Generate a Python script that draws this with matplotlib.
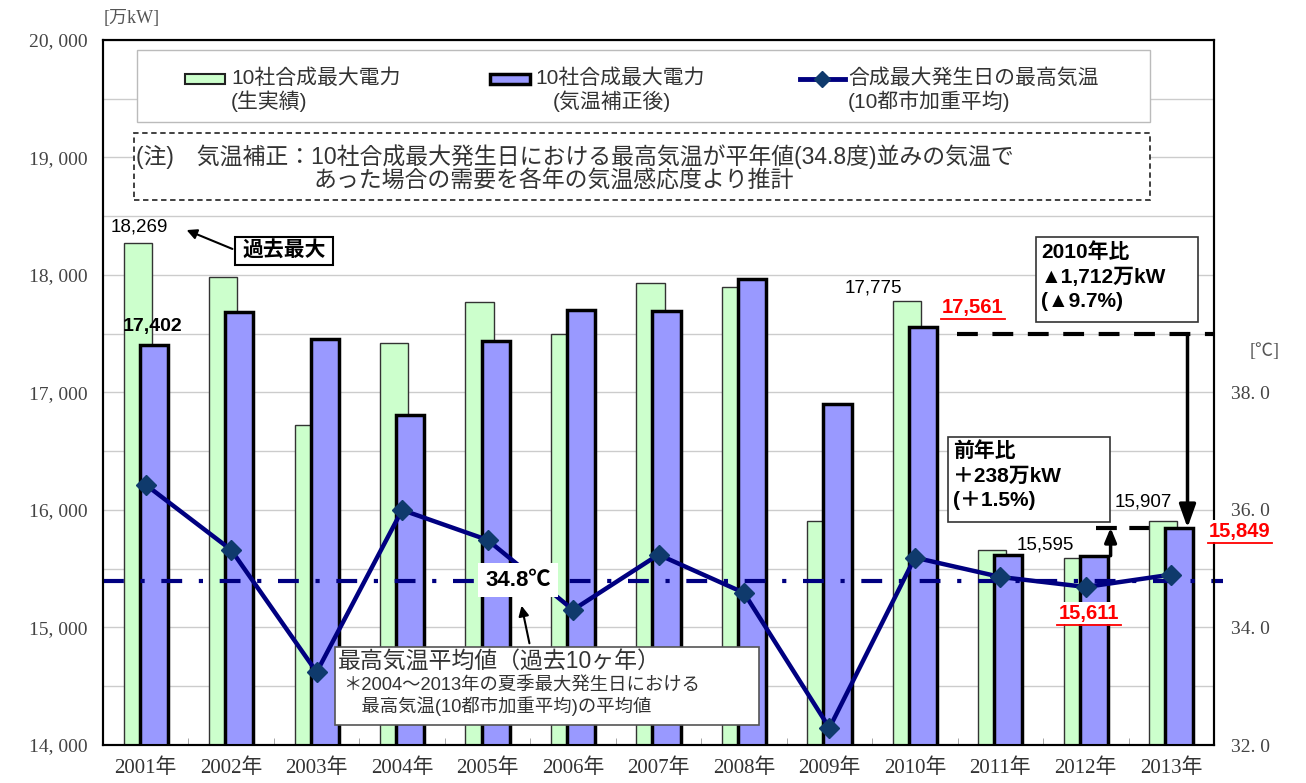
import numpy as np
import matplotlib
matplotlib.use('Agg')
import matplotlib.pyplot as plt
from matplotlib.patches import Rectangle, FancyArrowPatch
from matplotlib.lines import Line2D

# data
years = ['2001年', '2002年', '2003年', '2004年', '2005年', '2006年', '2007年',
         '2008年', '2009年', '2010年', '2011年', '2012年', '2013年']
actual = [18269, 17985, 16720, 17420, 17770, 17500, 17930, 17900, 15910, 17775, 15660, 15595, 15907]
corrected = [17402, 17685, 17455, 16810, 17440, 17700, 17695, 17965, 16900, 17561, 15620, 15611, 15849]
temp = [36.43, 35.32, 33.24, 36.00, 35.49, 34.30, 35.24, 34.59, 32.29, 35.19, 34.86, 34.69, 34.90]
temp_avg = 34.8

SANS = ['Liberation Sans', 'Noto Sans CJK JP']
SERIF = ['Liberation Serif', 'Noto Sans CJK JP']
plt.rcParams['font.family'] = SANS

W, H = 1306, 783
fig = plt.figure(figsize=(W / 100, H / 100), dpi=100)
L, R, T, B = 103, 1214, 40, 745
ax = fig.add_axes([L / W, 1 - B / H, (R - L) / W, (B - T) / H])


def fp(x, y):
    return x / W, 1 - y / H


def ft(x, y, s, **kw):
    return fig.text(x / W, 1 - y / H, s, **kw)


def fline(xs, ys, **kw):
    fig.add_artist(Line2D([v / W for v in xs], [1 - v / H for v in ys], **kw))


def fbox(x0, y0, x1, y1, **kw):
    fig.patches.append(Rectangle(fp(x0, y1), (x1 - x0) / W, (y1 - y0) / H,
                                 transform=fig.transFigure, **kw))


def farrow(p0, p1):
    fig.add_artist(FancyArrowPatch(fp(*p0), fp(*p1), transform=fig.transFigure,
                                   arrowstyle='-|>,head_length=6,head_width=3',
                                   color='black', lw=1.5, zorder=5))


x = np.arange(len(years))
off, bw = 0.094, 0.33
ax.bar(x - off, actual, bw, color='#ccffcc', edgecolor='#333333', linewidth=1, zorder=2)
ax.bar(x + off, corrected, bw, color='#9999ff', edgecolor='black', linewidth=2.5, zorder=3)

ax.set_xlim(-0.5, len(years) - 0.5)
ax.set_ylim(14000, 20000)
yt = list(range(14000, 20001, 1000))
ax.set_yticks(yt)
ax.set_yticklabels([f'{v:,}'.replace(',', ', ') for v in yt], family=SERIF, fontsize=14, color='#444444')
ax.set_yticks(range(14500, 20000, 1000), minor=True)
ax.grid(True, which='both', axis='y', color='#cccccc', lw=1)
ax.set_axisbelow(True)
ax.set_xticks(x)
ax.set_xticklabels(years, family=SERIF, fontsize=15, color='#333333')
ax.set_xticks(np.arange(-0.5, len(years)), minor=True)
ax.tick_params(axis='x', which='major', length=0, pad=10)
ax.tick_params(axis='x', which='minor', length=5, direction='in', color='#999999')
ax.tick_params(axis='y', which='both', length=0, pad=11)
for s in ax.spines.values():
    s.set_linewidth(1.5)

# 2010 -> 2013 and 2012 -> 2013 comparison marks
ax.plot([9.49, 12.5], [corrected[9] - 60] * 2, color='black', lw=3, ls=(0, (5, 3.5)), zorder=4)
ax.annotate('', xy=(12.19, corrected[12]), xytext=(12.19, corrected[9] - 60),
            arrowprops=dict(arrowstyle='-|>,head_length=0.7,head_width=0.25', color='black',
                            lw=2.5, mutation_scale=20, shrinkA=0, shrinkB=0), zorder=5)
ax.plot([11.12, 12.0], [corrected[12]] * 2, color='black', lw=3, ls=(0, (5, 3)), zorder=1.5)
ax.annotate('', xy=(11.29, corrected[12]), xytext=(11.29, corrected[11]),
            arrowprops=dict(arrowstyle='-|>,head_length=0.6,head_width=0.25', color='black',
                            lw=2.5, mutation_scale=14, shrinkA=0, shrinkB=0), zorder=5)

# temperature axis
ax2 = ax.twinx()
ax2.set_ylim(32, 44)
tt = [32, 34, 36, 38]
ax2.set_yticks(tt)
ax2.set_yticklabels([f'{v:.1f}'.replace('.', '. ') for v in tt], family=SERIF, fontsize=14, color='#444444')
ax2.tick_params(axis='y', length=0, pad=12)
for s in ax2.spines.values():
    s.set_linewidth(1.5)
ax2.axhline(temp_avg, xmax=1.008, clip_on=False, color='#000080', lw=3, ls=(0, (5, 4, 1, 4)), zorder=2)
ax2.plot(x, temp, color='#000080', lw=3.2, marker='D', ms=10, mfc='#0f3a6c', mec='#0f3a6c', zorder=3)

# axis units
ft(132, 18, '[万kW]', ha='center', va='center', fontsize=13, color='#555555', family=SERIF)
ft(1265, 352, '[℃]', ha='center', va='center', fontsize=13, color='#555555', family=SERIF)

# legend
fbox(137, 50, 1150, 122, fc='white', ec='#bbbbbb', lw=1, zorder=3)
fbox(185, 74, 225, 84, fc='#ccffcc', ec='#222222', lw=1.5, zorder=4)
fbox(490, 74, 530, 84, fc='#9999ff', ec='black', lw=2.5, zorder=4)
fig.add_artist(Line2D([800 / W, 822 / W, 845 / W], [1 - 79 / H] * 3, color='#000080', lw=3.5,
                      marker='D', ms=8, markevery=[1], mfc='#0f3a6c', mec='#0f3a6c', zorder=4))
leg_kw = dict(va='center', fontsize=15, color='#333333', zorder=5)
ft(231, 78, '10社合成最大電力', **leg_kw)
ft(231, 101, '(生実績)', **leg_kw)
ft(535, 78, '10社合成最大電力', **leg_kw)
ft(553, 101, '(気温補正後)', **leg_kw)
ft(848, 78, '合成最大発生日の最高気温', **leg_kw)
ft(848, 101, '(10都市加重平均)', **leg_kw)

# note
fbox(134, 133, 1150, 200, fc='white', ec='#333333', lw=1.3, ls=(0, (3, 2)), zorder=3)
ft(136, 157, '(注)　気温補正：10社合成最大発生日における最高気温が平年値(34.8度)並みの気温で',
   va='center', fontsize=16.5, color='#333333', zorder=5)
ft(313, 181, 'あった場合の需要を各年の気温感応度より推計', va='center', fontsize=16.5, color='#333333', zorder=5)

# value labels
ft(139, 227, f'{actual[0]:,}', ha='center', va='center', fontsize=13.5)
ft(153, 327, f'{corrected[0]:,}', ha='center', va='center', fontsize=14, weight='bold')
ft(873, 288, f'{actual[9]:,}', ha='center', va='center', fontsize=13.5)
ft(1143, 502, f'{actual[12]:,}', ha='center', va='center', fontsize=13.5)
ft(1045, 545, f'{actual[11]:,}', ha='center', va='center', fontsize=13.5)
ft(973, 307, f'{corrected[9]:,}', ha='center', va='center', fontsize=14.5, weight='bold', color='red')
fline([941, 1005], [319, 319], color='red', lw=1.3)
ft(1240, 531, f'{corrected[12]:,}', ha='center', va='center', fontsize=14.5, weight='bold', color='red',
   bbox=dict(fc='white', ec='none', pad=1), zorder=5)
fline([1208, 1272], [543, 543], color='red', lw=1.3, zorder=6)
ft(1089, 613, f'{corrected[11]:,}', ha='center', va='center', fontsize=14.5, weight='bold', color='red',
   bbox=dict(fc='white', ec='none', pad=1), zorder=5)
fline([1057, 1121], [625, 625], color='red', lw=1.3, zorder=6)

# "過去最大" callout
fbox(235, 237, 333, 265, fc='white', ec='black', lw=1.5, zorder=4)
ft(284, 251, '過去最大', ha='center', va='center', fontsize=15, weight='bold', zorder=5)
farrow((235, 250), (184, 229))

# comparison boxes
fbox(1036, 237, 1198, 322, fc='white', ec='#333333', lw=1.2, zorder=4)
for yy, s in zip([252, 277, 301], ['2010年比', '▲1,712万kW', '(▲9.7%)']):
    ft(1041, yy, s, va='center', fontsize=15, weight='bold', zorder=5)
fbox(948, 437, 1110, 522, fc='white', ec='#333333', lw=1.2, zorder=4)
for yy, s in zip([451, 476, 500], ['前年比', '＋238万kW', '(＋1.5%)']):
    ft(953, yy, s, va='center', fontsize=15, weight='bold', zorder=5)

# average temperature callout
ft(518, 580, f'{temp_avg}℃', ha='center', va='center', fontsize=16, weight='bold', zorder=5,
   bbox=dict(fc='white', ec='none', pad=5))
farrow((530, 646), (521, 603))
fbox(335, 647, 759, 725, fc='white', ec='#555555', lw=1.2, zorder=4)
ft(338, 661, '最高気温平均値（過去10ヶ年）', va='center', fontsize=16.5, color='#333333', zorder=5)
ft(343, 685, '＊2004～2013年の夏季最大発生日における', va='center', fontsize=13.2, color='#333333', zorder=5)
ft(343, 706, '　最高気温(10都市加重平均)の平均値', va='center', fontsize=13.2, color='#333333', zorder=5)

fig.savefig('out.png', dpi=100)
